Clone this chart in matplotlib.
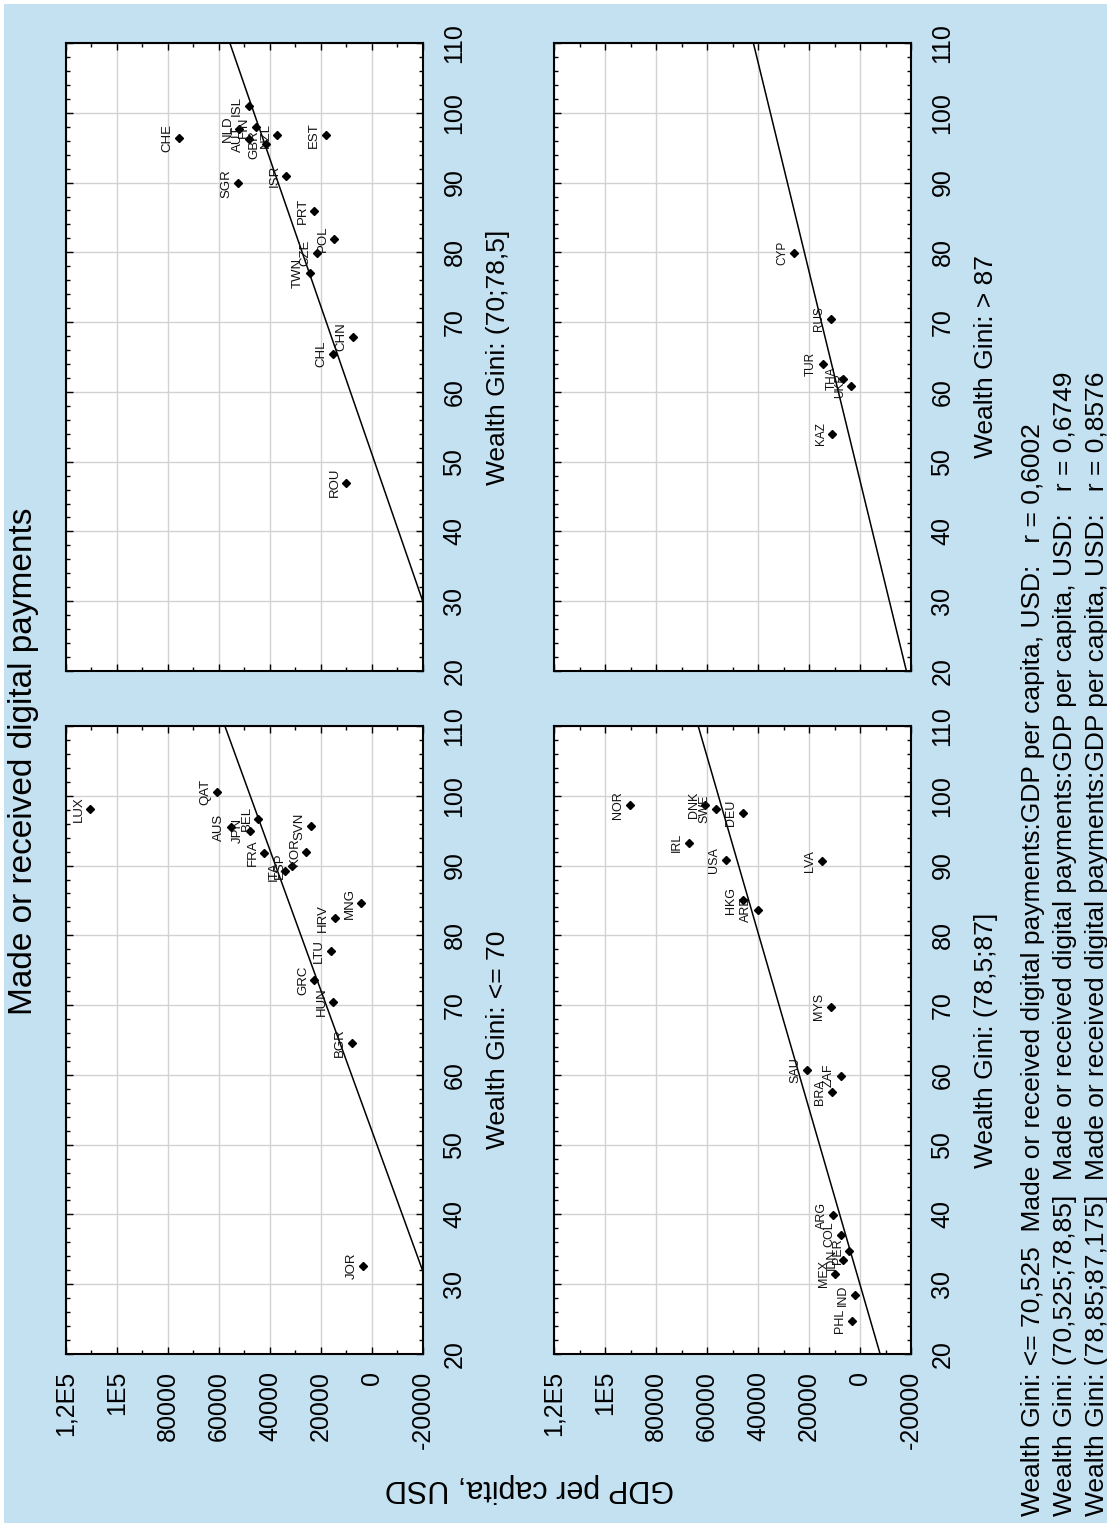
import matplotlib.pyplot as plt
import numpy as np
from matplotlib.patches import Rectangle
from matplotlib.ticker import MultipleLocator

plt.rcParams['font.family'] = ['Liberation Sans', 'DejaVu Sans']

# panel 1: Wealth Gini <= 70
lab_1 = ["LUX", "QAT", "AUS", "JPN", "BEL", "FRA", "ITA", "ESP", "KOR", "SVN",
         "MNG", "HRV", "LTU", "GRC", "HUN", "BGR", "JOR"]
gini_1 = [98.1, 100.6, 95.5, 95.0, 96.7, 91.8, 89.2, 90.0, 92.0, 95.6,
          84.6, 82.5, 77.7, 73.6, 70.5, 64.6, 32.6]
gdp_1 = [110600, 60970, 55350, 47900, 44640, 42290, 34060, 31450, 25710, 24010,
         4160, 14600, 16170, 22570, 15130, 7950, 3500]

# panel 2: Wealth Gini (70;78,5]
lab_2 = ["CHE", "SGR", "ISL", "NLD", "FIN", "AUT", "GBR", "NZL", "ISR", "EST",
         "PRT", "POL", "CZE", "TWN", "CHN", "CHL", "ROU"]
gini_2 = [96.4, 89.9, 100.9, 97.7, 97.9, 96.3, 95.5, 96.8, 91.0, 96.8,
          85.9, 81.9, 79.9, 77.0, 67.9, 65.4, 47.0]
gdp_2 = [75860, 52600, 48430, 52100, 45560, 48200, 41640, 37070, 33800, 18130,
         22700, 14870, 21400, 24400, 7290, 15130, 10030]

# panel 3: Wealth Gini (78,5;87]
lab_3 = ["NOR", "DNK", "SWE", "DEU", "IRL", "USA", "LVA", "HKG", "ARE", "MYS",
         "SAU", "ZAF", "BRA", "ARG", "COL", "PER", "IDN", "MEX", "IND", "PHL"]
gini_3 = [98.7, 98.7, 98.1, 97.5, 93.3, 90.8, 90.6, 85.0, 83.7, 69.8,
          60.7, 59.9, 57.6, 39.9, 37.1, 34.8, 33.5, 31.5, 28.4, 24.7]
gdp_3 = [90270, 60670, 56480, 46010, 67230, 52570, 15020, 46010, 40150, 11390,
         20880, 7620, 10970, 10410, 7620, 4130, 6530, 9720, 2040, 3150]

# panel 4: Wealth Gini > 87
lab_4 = ["CYP", "RUS", "TUR", "THA", "UKR", "KAZ"]
gini_4 = [79.9, 70.5, 64.0, 61.9, 60.9, 54.0]
gdp_4 = [26070, 11420, 14630, 6540, 3430, 10830]

panel_titles = ["Wealth Gini: <= 70", "Wealth Gini: (70;78,5]",
                "Wealth Gini: (78,5;87]", "Wealth Gini: > 87"]

# fitted lines  GDP = a + b * Gini
fit_a = [-51600, -48280, -23750, -31540]
fit_b = [993.6, 945.7, 792.8, 666.9]

gdp_ticks = [-20000, 0, 20000, 40000, 60000, 80000, 100000, 120000]
gdp_tick_labels = ["-20000", "0", "20000", "40000", "60000", "80000", "1E5", "1,2E5"]
gini_ticks = [20, 30, 40, 50, 60, 70, 80, 90, 100, 110]

footer = [
    "Wealth Gini: <= 70,525  Made or received digital payments:GDP per capita, USD:   r = 0,6002",
    "Wealth Gini: (70,525;78,85]  Made or received digital payments:GDP per capita, USD:   r = 0,6749",
    "Wealth Gini: (78,85;87,175]  Made or received digital payments:GDP per capita, USD:   r = 0,8576",
]

BG = '#c3e1f1'
W, H = 1107, 1523

fig = plt.figure(figsize=(W / 100, H / 100), dpi=100, facecolor='white')
fig.patches.append(Rectangle((4 / W, 0), 1, 1 - 4 / H, transform=fig.transFigure,
                             facecolor=BG, edgecolor='none', zorder=-10))

# the whole chart is turned on its side: GDP runs right-to-left, Gini bottom-to-top
pw, ph = 357 / W, 628 / H
rects = [
    (66 / W, 169 / H),   # <= 70
    (66 / W, 852 / H),   # (70;78,5]
    (554 / W, 169 / H),  # (78,5;87]
    (554 / W, 852 / H),  # > 87
]
groups = [(lab_1, gini_1, gdp_1), (lab_2, gini_2, gdp_2),
          (lab_3, gini_3, gdp_3), (lab_4, gini_4, gdp_4)]
label_sizes = [9.5, 9.5, 9, 8.5]

for i in range(4):
    left, bottom = rects[i]
    ax = fig.add_axes([left, bottom, pw, ph])
    labs, gini, gdp = groups[i]

    g = np.array([10, 120])
    ax.plot(fit_a[i] + fit_b[i] * g, g, color='black', lw=1.1, zorder=2)
    ax.plot(gdp, gini, 'D', color='black', ms=4.5, zorder=3)
    for name, x, y in zip(labs, gdp, gini):
        ax.annotate(name, (x, y), xytext=(-4, 0), textcoords='offset points',
                    rotation=90, ha='right', va='center', fontsize=label_sizes[i],
                    color='#111111')

    ax.set_xlim(120000, -20000)
    ax.set_ylim(20, 110)
    ax.set_xticks(gdp_ticks)
    ax.set_xticklabels(gdp_tick_labels)
    ax.set_yticks(gini_ticks)
    ax.xaxis.set_minor_locator(MultipleLocator(10000))
    ax.yaxis.set_minor_locator(MultipleLocator(2))
    bottom_row = i in (0, 2)
    ax.tick_params(which='both', direction='in', top=True, bottom=True,
                   left=True, right=True, labelleft=False, labelright=True,
                   labelbottom=bottom_row, labelsize=18, width=1)
    ax.tick_params(which='major', length=5)
    ax.tick_params(which='minor', length=3)
    ax.tick_params(axis='x', labelrotation=90, pad=12)
    ax.tick_params(axis='y', labelrotation=90, pad=14)
    for t in ax.get_yticklabels(which='major') + [tk.label2 for tk in ax.yaxis.get_major_ticks()]:
        t.set_va('center')
    ax.grid(True, which='major', color='#d2d2d2', lw=1)
    ax.set_axisbelow(True)
    for s in ax.spines.values():
        s.set_linewidth(1.5)
    ax.yaxis.set_label_position('right')
    ax.set_ylabel(panel_titles[i], rotation=90, fontsize=19, labelpad=14)

fig.text(24 / W, 1 - 761 / H, "Made or received digital payments", rotation=90,
         ha='center', va='center', fontsize=24)
fig.text(530 / W, 1 - 1488 / H, "GDP per capita, USD", rotation=180,
         ha='center', va='center', fontsize=22)
for k, line in enumerate(footer):
    fig.text((1033 + 32 * k) / W, 7 / H, line, rotation=90, ha='center',
             va='bottom', fontsize=19)

fig.savefig('out.png', dpi=100, facecolor=fig.get_facecolor())
